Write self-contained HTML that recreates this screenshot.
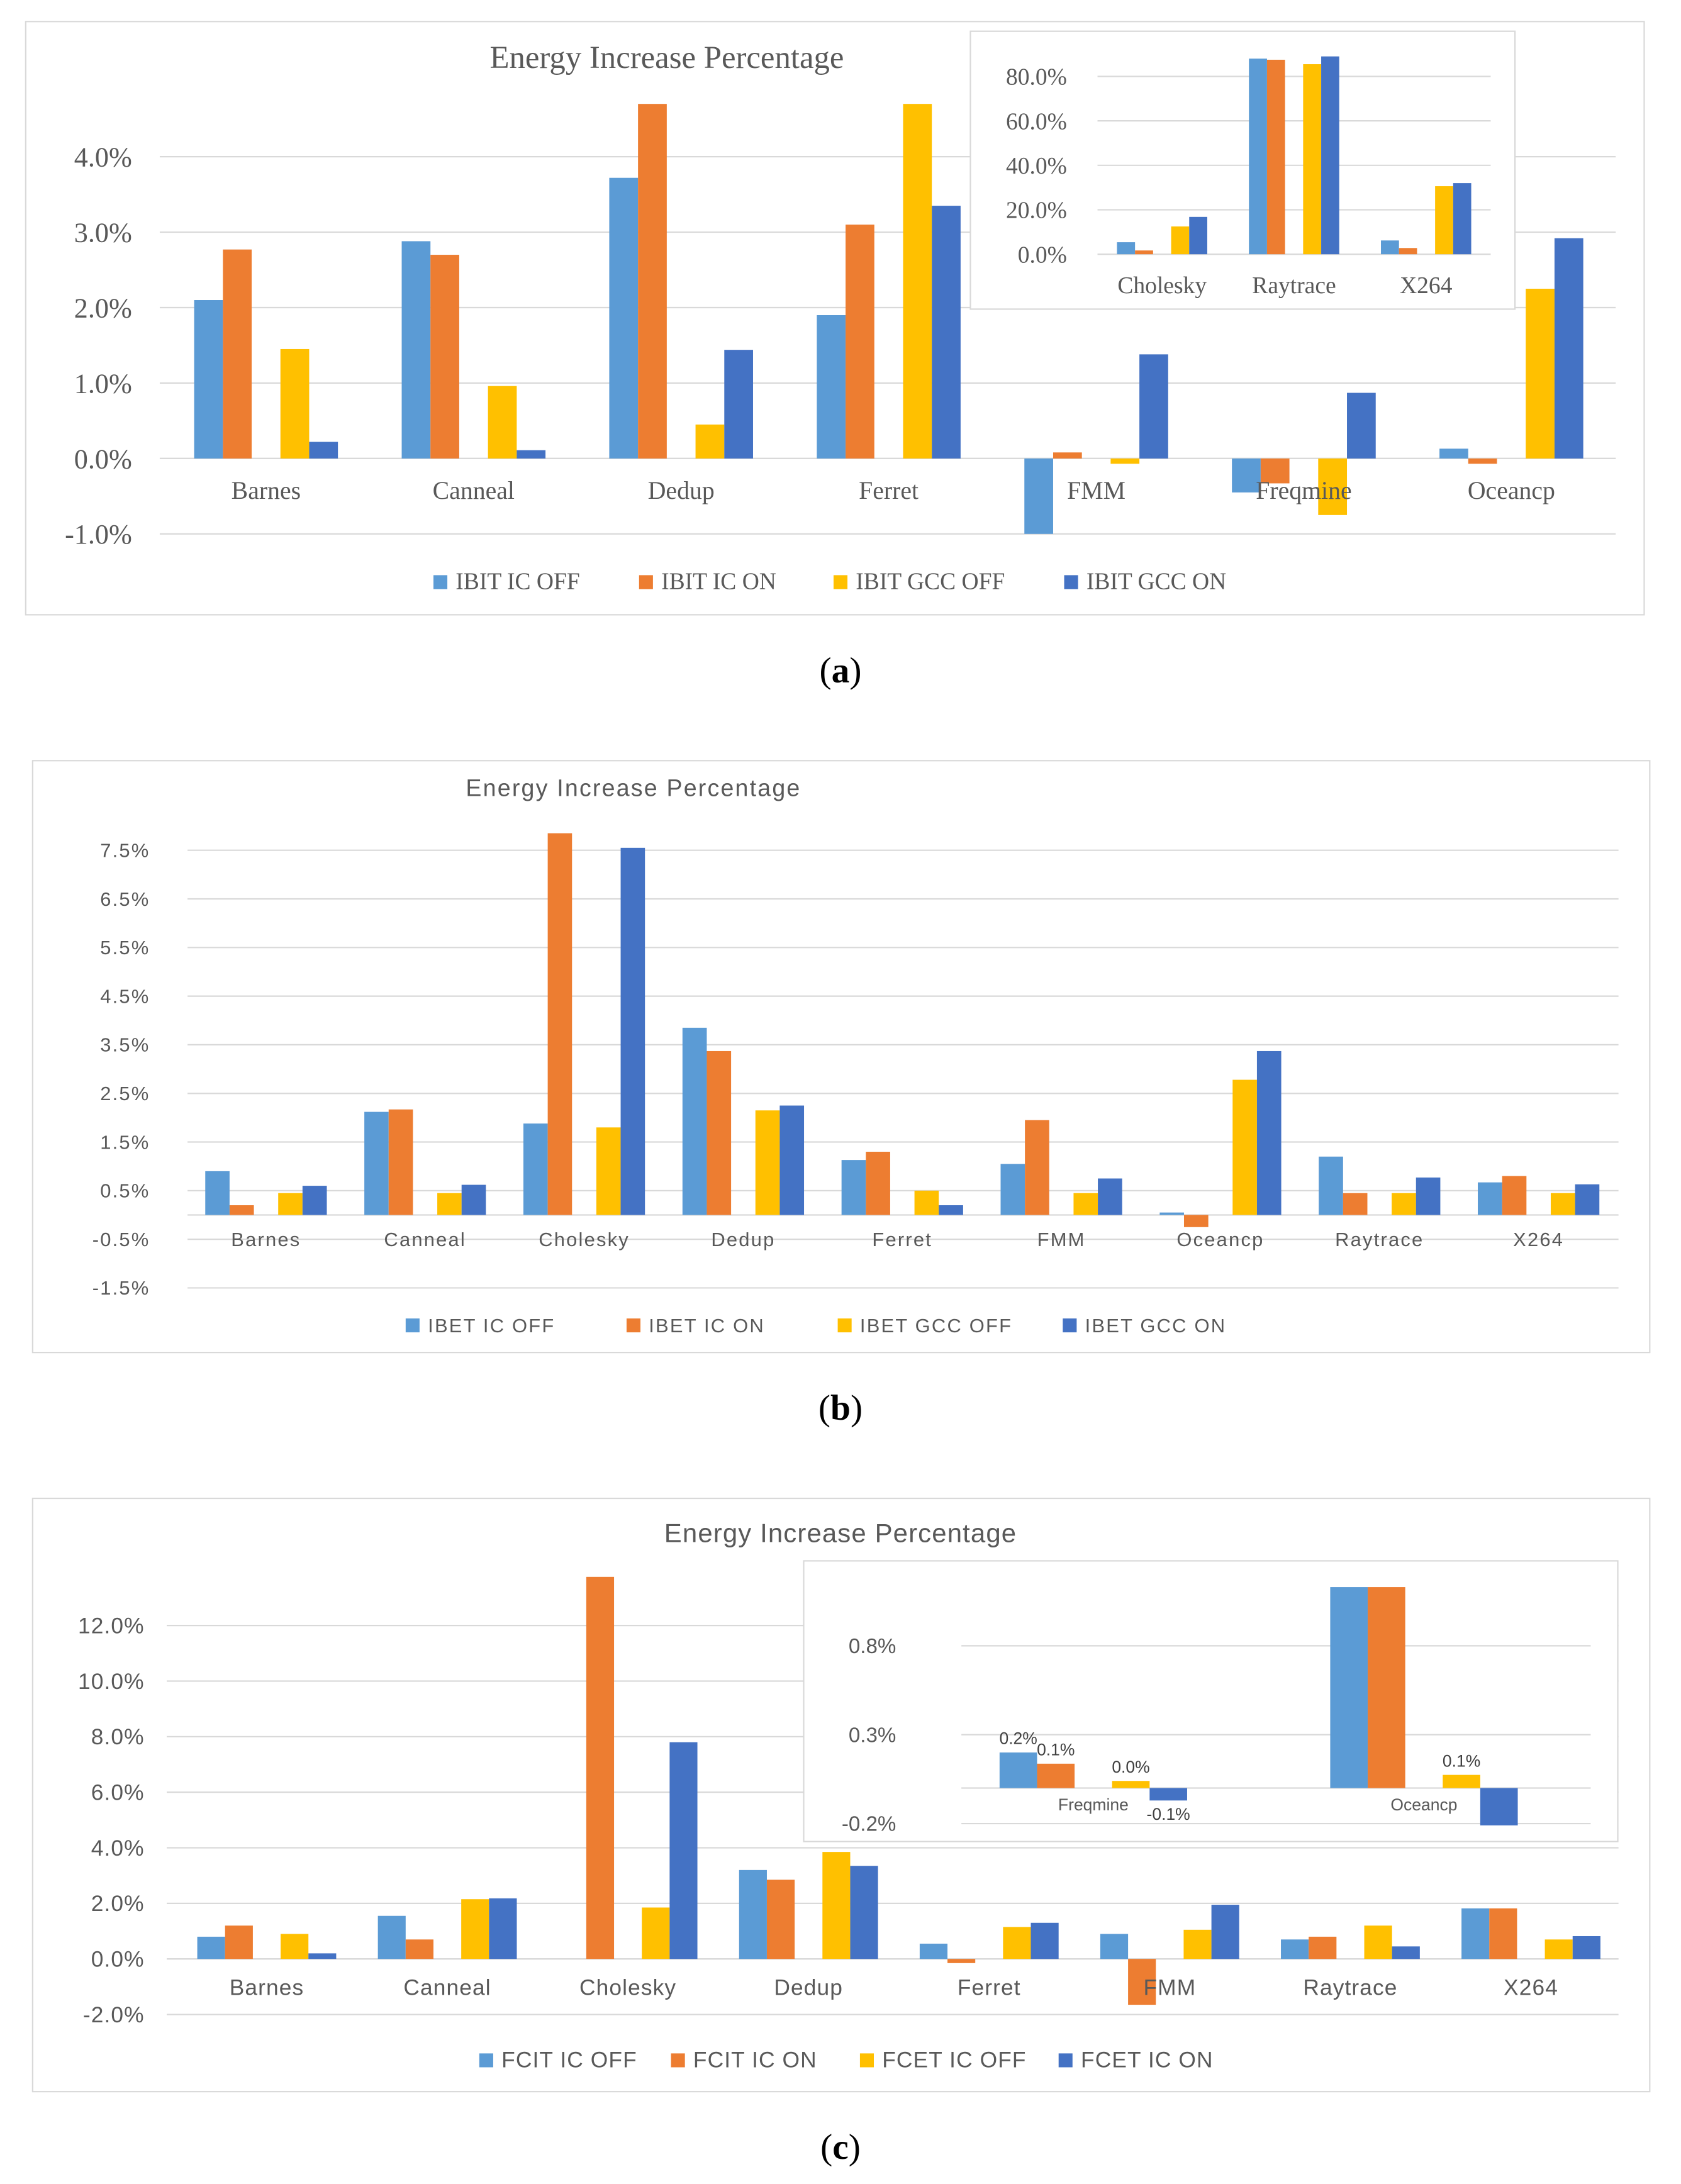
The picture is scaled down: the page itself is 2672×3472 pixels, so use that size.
<!DOCTYPE html>
<html><head><meta charset="utf-8"><style>
html,body{margin:0;padding:0;background:#fff;}
svg{display:block;}
</style></head><body>
<svg id="fig" width="2672" height="3472" viewBox="0 0 1210 1572" preserveAspectRatio="none" xmlns="http://www.w3.org/2000/svg">
<rect x="0" y="0" width="1210" height="1572" fill="#fff"/>
<rect x="18.5" y="15.5" width="1165" height="427" fill="#fff" stroke="#d9d9d9"/>
<rect x="23.5" y="547.5" width="1164" height="426" fill="#fff" stroke="#d9d9d9"/>
<rect x="23.5" y="1078.5" width="1164" height="427" fill="#fff" stroke="#d9d9d9"/>
<g id="layer"></g>
<text x="605" y="491" text-anchor="middle" font-family="Liberation Serif, serif" font-size="26" fill="#000">(<tspan font-weight="bold">a</tspan>)</text>
<text x="605" y="1022" text-anchor="middle" font-family="Liberation Serif, serif" font-size="26" fill="#000">(<tspan font-weight="bold">b</tspan>)</text>
<text x="605" y="1554" text-anchor="middle" font-family="Liberation Serif, serif" font-size="26" fill="#000">(<tspan font-weight="bold">c</tspan>)</text>
</svg>
<script>
const colors = ["#5B9BD5","#ED7D31","#FFC000","#4472C4"];
// Chart (a)
const catsA = ["Barnes","Canneal","Dedup","Ferret","FMM","Freqmine","Oceancp"];
const a_icOff  = [2.1, 2.88, 3.72, 1.9, -1.0, -0.45, 0.13];
const a_icOn   = [2.77, 2.7, 4.7, 3.1, 0.08, -0.33, -0.07];
const a_gccOff = [1.45, 0.96, 0.45, 4.7, -0.07, -0.75, 2.25];
const a_gccOn  = [0.22, 0.11, 1.44, 3.35, 1.38, 0.87, 2.92];
const ticksA = [-1,0,1,2,3,4];
const legendA = ["IBIT IC OFF","IBIT IC ON","IBIT GCC OFF","IBIT GCC ON"];
// Inset (a)
const catsAi = ["Cholesky","Raytrace","X264"];
const ai_icOff  = [5.4, 88, 6.2];
const ai_icOn   = [1.7, 87.5, 2.8];
const ai_gccOff = [12.5, 85.5, 30.6];
const ai_gccOn  = [16.8, 89, 32];
const ticksAi = [0,20,40,60,80];
// Chart (b)
const catsB = ["Barnes","Canneal","Cholesky","Dedup","Ferret","FMM","Oceancp","Raytrace","X264"];
const b_icOff  = [0.9, 2.12, 1.88, 3.85, 1.13, 1.05, 0.05, 1.2, 0.67];
const b_icOn   = [0.2, 2.17, 7.85, 3.37, 1.3, 1.95, -0.25, 0.45, 0.8];
const b_gccOff = [0.45, 0.45, 1.8, 2.15, 0.5, 0.45, 2.78, 0.45, 0.45];
const b_gccOn  = [0.6, 0.62, 7.55, 2.25, 0.2, 0.75, 3.37, 0.77, 0.63];
const ticksB = [-1.5,-0.5,0.5,1.5,2.5,3.5,4.5,5.5,6.5,7.5];
const legendB = ["IBET IC OFF","IBET IC ON","IBET GCC OFF","IBET GCC ON"];
// Chart (c)
const catsC = ["Barnes","Canneal","Cholesky","Dedup","Ferret","FMM","Raytrace","X264"];
const c_fcitOff = [0.8, 1.55, 0, 3.2, 0.55, 0.9, 0.7, 1.82];
const c_fcitOn  = [1.2, 0.7, 13.75, 2.85, -0.15, -1.65, 0.8, 1.82];
const c_fcetOff = [0.9, 2.15, 1.85, 3.85, 1.15, 1.05, 1.2, 0.7];
const c_fcetOn  = [0.2, 2.18, 7.8, 3.35, 1.3, 1.95, 0.45, 0.82];
const ticksC = [-2,0,2,4,6,8,10,12];
const legendC = ["FCIT IC OFF","FCIT IC ON","FCET IC OFF","FCET IC ON"];
// Inset (c)
const catsCi = ["Freqmine","Oceancp"];
const ci_fcitOff = [0.2, 1.13];
const ci_fcitOn  = [0.137, 1.13];
const ci_fcetOff = [0.04, 0.074];
const ci_fcetOn  = [-0.07, -0.21];
const ticksCi = [-0.2,0.3,0.8];
const labelsCi = [["0.2%","0.1%","0.0%","-0.1%"],["","","0.1%",""]];

const NS = "http://www.w3.org/2000/svg";
const layer = document.getElementById("layer");
function mk(tag, attrs, parent){
  const e = document.createElementNS(NS, tag);
  for (const k in attrs) e.setAttribute(k, attrs[k]);
  (parent||layer).appendChild(e);
  return e;
}

function drawChart(o){
  const g = mk("g", {});
  
  
  if (o.bg) mk("rect", {x:o.bg[0]+0.5, y:o.bg[1]+0.5, width:o.bg[2], height:o.bg[3], fill:"#fff", stroke:"#d9d9d9"}, g);
  const y = v => o.zeroY - v*o.ppu;
  const cx = i => o.c0 + i*o.cstep;
  o.ticks.forEach(t=>{
    const ln = mk("line", {x1:o.gx0, x2:o.gx1, y1:y(t), y2:y(t), stroke:"#d9d9d9", "stroke-width":1}, g);
    
    
    const tx = mk("text", {x:o.tickX, y:y(t)+o.tfs*0.35, "text-anchor":"end", "font-family":o.font, "font-size":o.tfs, fill:"#595959", "letter-spacing":o.ls||0}, g);
    tx.textContent = o.fmt(t);
    
    
  });
  const ax = mk("line", {x1:o.gx0, x2:o.gx1, y1:y(0), y2:y(0), stroke:"#d9d9d9", "stroke-width":1}, g);
  
  
  const slots = [0,1,3,4];
  o.series.forEach((s, k)=>{
    s.forEach((v, i)=>{
      const x = cx(i) + (slots[k]-2.5)*o.w;
      const y0 = Math.min(y(0), y(v)), h = Math.abs(y(v)-y(0));
      const r = mk("rect", {x:x, y:y0, width:o.w, height:h, fill:colors[k]}, g);
      
      
      if (o.labels && o.labels[i][k]) {
        const lt = mk("text", {x:x+o.w/2, y: v>=0 ? y(v)-6 : y(v)+14, "text-anchor":"middle", "font-family":o.font, "font-size":12, fill:"#404040"}, g);
        lt.textContent = o.labels[i][k];
        
        
      }
    });
  });
  o.cats.forEach((c,i)=>{
    const t = mk("text", {x:cx(i), y:o.catY, "text-anchor":"middle", "font-family":o.font, "font-size":o.cfs, fill:"#595959", "letter-spacing":o.ls||0}, g);
    t.textContent = c;
    
    
  });
  if (o.title){
    const t = mk("text", {x:o.title[0], y:o.title[1], "text-anchor":"middle", "font-family":o.font, "font-size":o.title[2], fill:"#595959", "letter-spacing":o.ls||0}, g);
    t.textContent = "Energy Increase Percentage";
    
    
  }
  if (o.legend){
    o.legend.forEach((l,k)=>{
      const sq = mk("rect", {x:o.legX[k], y:o.legY-10, width:10, height:10, fill:colors[k]}, g);
      
      
      const t = mk("text", {x:o.legX[k]+16, y:o.legY, "font-family":o.font, "font-size":o.lfs, fill:"#595959", "letter-spacing":o.ls||0}, g);
      t.textContent = l;
      
      
    });
  }
}

drawChart({name:"chart-a", font:"Liberation Serif, serif", cats:catsA, series:[a_icOff,a_icOn,a_gccOff,a_gccOn],
  zeroY:330, ppu:54.3, c0:191.5, cstep:149.4, w:20.7, gx0:115, gx1:1163, ticks:ticksA, tickX:95, tfs:20, cfs:18,
  fmt:t=>t.toFixed(1)+"%", catY:359, title:[480,49,23], legend:legendA, legX:[312,460,600,766], legY:424, lfs:17});
drawChart({name:"chart-a-inset", font:"Liberation Serif, serif", cats:catsAi, series:[ai_icOff,ai_icOn,ai_gccOff,ai_gccOn],
  bg:[698,22,392,200], zeroY:183, ppu:1.6, c0:836.5, cstep:95, w:13, gx0:790, gx1:1073, ticks:ticksAi, tickX:768, tfs:17, cfs:17,
  fmt:t=>t.toFixed(1)+"%", catY:211});
drawChart({name:"chart-b", font:"Liberation Sans, sans-serif", ls:1, cats:catsB, series:[b_icOff,b_icOn,b_gccOff,b_gccOn],
  zeroY:874.5, ppu:35, c0:191.5, cstep:114.5, w:17.5, gx0:135, gx1:1165, ticks:ticksB, tickX:108, tfs:14, cfs:14,
  fmt:t=>t.toFixed(1)+"%", catY:897, title:[456,573,17], legend:legendB, legX:[292,451,603,765], legY:959, lfs:14});
drawChart({name:"chart-c", font:"Liberation Sans, sans-serif", ls:0.5, cats:catsC, series:[c_fcitOff,c_fcitOn,c_fcetOff,c_fcetOn],
  zeroY:1410, ppu:20, c0:192, cstep:130, w:20, gx0:120, gx1:1165, ticks:ticksC, tickX:104, tfs:16, cfs:16,
  fmt:t=>t.toFixed(1)+"%", catY:1436, title:[605,1110,19], legend:legendC, legX:[345,483,619,762], legY:1488, lfs:16});
drawChart({name:"chart-c-inset", font:"Liberation Sans, sans-serif", cats:catsCi, series:[ci_fcitOff,ci_fcitOn,ci_fcetOff,ci_fcetOn],
  bg:[578,1123,586,202], zeroY:1287, ppu:128, c0:787, cstep:238, w:27, gx0:692, gx1:1145, ticks:ticksCi, tickX:645, tfs:15, cfs:12,
  fmt:t=>t.toFixed(1)+"%", catY:1303, labels:labelsCi});
</script>
</body></html>
